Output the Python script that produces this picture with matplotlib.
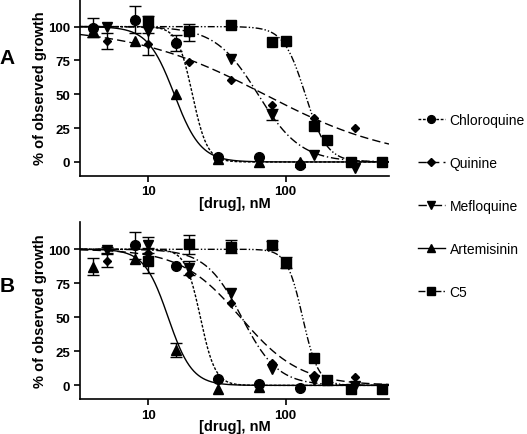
#!/usr/bin/env python3
"""
Dose-response curves of growth inhibition for five drugs (panels A and B).
"""

import matplotlib
matplotlib.use('Agg')
import matplotlib.pyplot as plt
import numpy as np

plt.rcParams['font.family'] = ['Liberation Sans', 'DejaVu Sans']

drugs = ['Chloroquine', 'Quinine', 'Mefloquine', 'Artemisinin', 'C5']

# ---- panel A data (conc nM, % growth, error) ----
a_conc = {
    'Chloroquine': [4, 8, 16, 32, 64, 128],
    'Quinine': [5, 10, 20, 40, 80, 160, 320],
    'Mefloquine': [5, 10, 20, 40, 80, 160, 320],
    'Artemisinin': [4, 8, 16, 32, 64, 128],
    'C5': [10, 20, 40, 80, 100, 160, 200, 300, 500],
}
a_growth = {
    'Chloroquine': [99, 105, 88, 3.5, 3.5, -2],
    'Quinine': [89.5, 87, 74, 60.7, 42, 32.5, 25],
    'Mefloquine': [100, 96.4, 95.7, 76, 35, 5.2, -4.6],
    'Artemisinin': [96.6, 89.5, 50, 2, 0, 0],
    'C5': [104, 97, 101, 88.3, 89.5, 26.8, 16.2, 0, 0],
}
a_err = {
    'Chloroquine': [7, 10, 6, 0, 0, 0],
    'Quinine': [6, 8, 0, 0, 0, 0, 0],
    'Mefloquine': [0, 0, 6, 0, 4, 0, 0],
    'Artemisinin': [4, 0, 0, 0, 0, 0],
    'C5': [4, 0, 0, 0, 0, 0, 0, 0, 0],
}
# fitted curve parameters (IC50 nM, Hill slope)
a_ic50 = {'Chloroquine': 21, 'Quinine': 70, 'Mefloquine': 63, 'Artemisinin': 15.5, 'C5': 139}
a_hill = {'Chloroquine': 8, 'Quinine': 0.9, 'Mefloquine': 2.8, 'Artemisinin': 4.5, 'C5': 5.5}

# ---- panel B data ----
b_conc = {
    'Chloroquine': [8, 16, 32, 64, 128],
    'Quinine': [5, 10, 20, 40, 80, 160, 320],
    'Mefloquine': [5, 10, 20, 40, 80, 160, 320],
    'Artemisinin': [4, 8, 16, 32, 64],
    'C5': [10, 20, 40, 80, 100, 160, 200, 300, 500],
}
b_growth = {
    'Chloroquine': [103, 88, 4.4, 0.7, -1.7],
    'Quinine': [91.7, 97, 81.8, 60.2, 16.5, 7.9, 6],
    'Mefloquine': [99.5, 103, 86, 67.6, 12.3, 3.7, -0.5],
    'Artemisinin': [87.2, 93, 25.8, -2.4, -1],
    'C5': [91.7, 103.7, 102, 103, 90.2, 20, 3.7, -2.4, -2.4],
}
b_err = {
    'Chloroquine': [10, 0, 0, 0, 0],
    'Quinine': [5, 0, 0, 0, 0, 0, 0],
    'Mefloquine': [2, 6, 5, 0, 0, 0, 0],
    'Artemisinin': [6, 0, 5, 0, 0],
    'C5': [9, 7, 5, 3, 4, 0, 0, 0, 0],
}
b_ic50 = {'Chloroquine': 24, 'Quinine': 47, 'Mefloquine': 48, 'Artemisinin': 14, 'C5': 133}
b_hill = {'Chloroquine': 8, 'Quinine': 2.0, 'Mefloquine': 3.3, 'Artemisinin': 5, 'C5': 7.6}

styles = {
    'Chloroquine': dict(marker='o', ms=7, ls=(0, (2, 1.2))),
    'Quinine': dict(marker='D', ms=4.5, ls=(0, (6, 3))),
    'Mefloquine': dict(marker='v', ms=7.5, ls=(0, (6, 2, 1, 2))),
    'Artemisinin': dict(marker='^', ms=7, ls='-'),
    'C5': dict(marker='s', ms=6.5, ls=(0, (5, 1.5, 1, 1.5, 1, 1.5))),
}

XMIN, XMAX = 3.2, 565


def hill(x, ic50, n):
    return 100.0 / (1.0 + (x / ic50) ** n)


def draw_panel(ax, conc, growth, err, ic50, hillslope):
    xs = np.logspace(np.log10(XMIN), np.log10(XMAX), 400)
    for d in drugs:
        st = styles[d]
        ax.plot(xs, hill(xs, ic50[d], hillslope[d]), color='black', lw=1.0, ls=st['ls'])
        e = np.array(err[d], dtype=float)
        ax.errorbar(conc[d], growth[d], yerr=np.where(e > 0, e, np.nan),
                    fmt=st['marker'], ms=st['ms'], color='black', ecolor='black',
                    elinewidth=1, capsize=4, capthick=1)
    ax.set_xscale('log')
    ax.set_xlim(XMIN, XMAX)
    ax.set_ylim(-10, 120)
    ax.set_xticks([10, 100])
    ax.set_xticklabels(['10', '100'])
    ax.xaxis.set_minor_locator(matplotlib.ticker.NullLocator())
    ax.set_yticks([0, 25, 50, 75, 100])
    ax.spines['top'].set_visible(False)
    ax.spines['right'].set_visible(False)
    ax.spines['left'].set_linewidth(1.2)
    ax.spines['bottom'].set_linewidth(1.2)
    ax.tick_params(direction='out', length=4, width=1.2, labelsize=9.5, pad=3)
    for lab in ax.get_xticklabels() + ax.get_yticklabels():
        lab.set_fontweight('bold')
    ax.set_xlabel('[drug], nM', fontsize=10.5, fontweight='bold', labelpad=-1)
    ax.set_ylabel('% of observed growth', fontsize=10.5, fontweight='bold', labelpad=1)


fig = plt.figure(figsize=(5.27, 4.35), dpi=100)
ax1 = fig.add_axes([80 / 527, 1 - 176.5 / 435, 309 / 527, 176 / 435])
ax2 = fig.add_axes([80 / 527, 1 - 400 / 435, 309 / 527, 177 / 435])

draw_panel(ax1, a_conc, a_growth, a_err, a_ic50, a_hill)
draw_panel(ax2, b_conc, b_growth, b_err, b_ic50, b_hill)

fig.text(7 / 527, 1 - 58 / 435, 'A', fontsize=15, fontweight='bold', va='center', ha='center')
fig.text(7 / 527, 1 - 286 / 435, 'B', fontsize=15, fontweight='bold', va='center', ha='center')

# legend on the right side
handles = []
for d in drugs:
    st = styles[d]
    h, = ax1.plot([], [], color='black', lw=1.0, ls=st['ls'], marker=st['marker'],
                  ms=st['ms'] * 0.8)
    handles.append(h)
fig.legend(handles, drugs, loc='upper left', bbox_to_anchor=(412 / 527, 1 - 108 / 435),
           frameon=False, fontsize=10, labelspacing=2.1, handlelength=2.0,
           handletextpad=0.3, borderaxespad=0)

plt.savefig('out.png', dpi=100)
